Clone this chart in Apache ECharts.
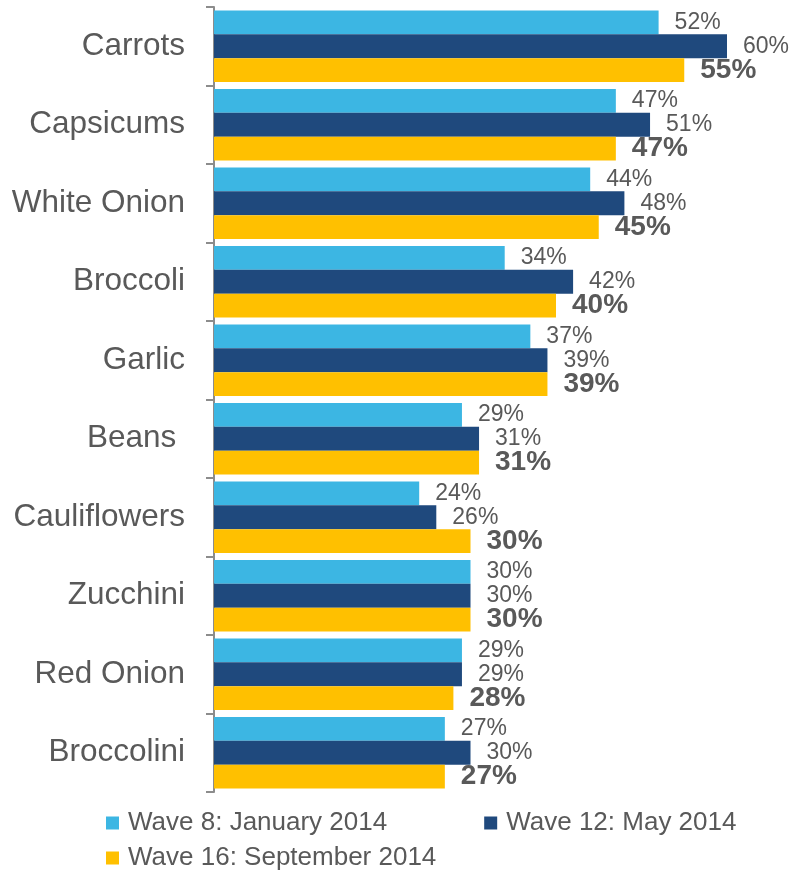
<!DOCTYPE html>
<html>
<head>
<meta charset="utf-8">
<title>Vegetable purchase by wave</title>
<script src="https://cdn.jsdelivr.net/npm/echarts@6/dist/echarts.min.js"></script>
<style>
  html, body { margin: 0; padding: 0; background: #ffffff; }
  #chart { width: 793px; height: 873px; }
</style>
</head>
<body>
<div id="chart"></div>
<script>
// Vegetables, top to bottom
var categories = ['Carrots', 'Capsicums', 'White Onion', 'Broccoli', 'Garlic',
                  'Beans ', 'Cauliflowers', 'Zucchini', 'Red Onion', 'Broccolini'];

// Percentages per survey wave
var wave8  = [52, 47, 44, 34, 37, 29, 24, 30, 29, 27];
var wave12 = [60, 51, 48, 42, 39, 31, 26, 30, 29, 30];
var wave16 = [55, 47, 45, 40, 39, 31, 30, 30, 28, 27];

var seriesNames = ['Wave 8: January 2014', 'Wave 12: May 2014', 'Wave 16: September 2014'];

var FONT = '"Liberation Sans", Arial, sans-serif';
var GREY = '#595959';

function barSeries(name, data, color, bold) {
  return {
    name: name,
    type: 'bar',
    data: data,
    barGap: '0%',
    barCategoryGap: '9%',
    itemStyle: { color: color },
    label: {
      show: true,
      position: 'right',
      distance: 16,
      formatter: '{c}%',
      color: GREY,
      fontFamily: FONT,
      fontSize: bold ? 28 : 23,
      fontWeight: bold ? 'bold' : 'normal'
    }
  };
}

var chart = echarts.init(document.getElementById('chart'), null, { renderer: 'canvas' });

chart.setOption({
  animation: false,
  backgroundColor: '#ffffff',
  grid: { left: 214, top: 7, width: 513, height: 785 },
  xAxis: {
    type: 'value',
    min: 0,
    max: 60,
    show: false
  },
  yAxis: {
    type: 'category',
    inverse: true,
    data: categories,
    axisLine: { show: true, lineStyle: { color: '#8c8c8c', width: 2 } },
    axisTick: { show: true, length: 8, lineStyle: { color: '#8c8c8c', width: 2 } },
    axisLabel: { color: GREY, fontFamily: FONT, fontSize: 31.5, margin: 29 },
    splitLine: { show: false }
  },
  legend: [
    {
      data: [seriesNames[0], seriesNames[1]],
      left: 101,
      top: 805,
      itemWidth: 13,
      itemHeight: 13,
      itemGap: 97,
      icon: 'rect',
      textStyle: { color: GREY, fontFamily: FONT, fontSize: 26, padding: [0, 0, 0, 4] }
    },
    {
      data: [seriesNames[2]],
      left: 101,
      top: 840,
      itemWidth: 13,
      itemHeight: 13,
      icon: 'rect',
      textStyle: { color: GREY, fontFamily: FONT, fontSize: 26, padding: [0, 0, 0, 4] }
    }
  ],
  series: [
    barSeries(seriesNames[0], wave8, '#3CB6E3', false),
    barSeries(seriesNames[1], wave12, '#1F497D', false),
    barSeries(seriesNames[2], wave16, '#FFC000', true)
  ]
});
</script>
</body>
</html>
